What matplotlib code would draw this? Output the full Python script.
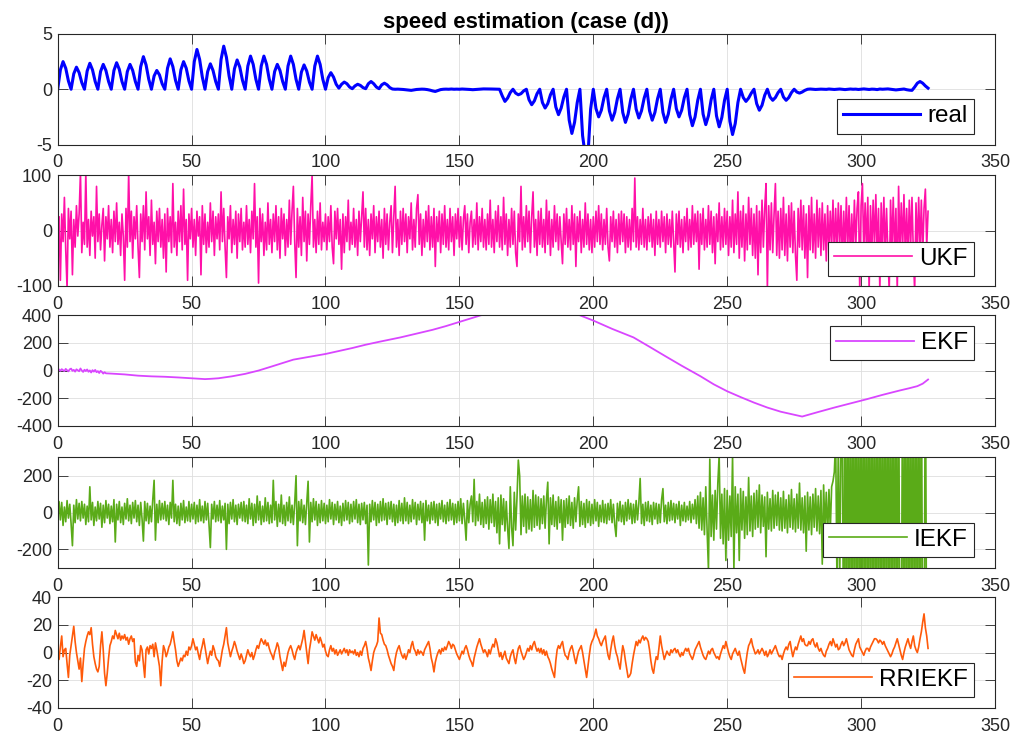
import numpy as np
import matplotlib.pyplot as plt

# real speed, sampled every 1 s
real_speed = [
    0, 1.75, 2.5, 1.9, 0.75, 0, 1.4, 2.0, 1.5, 0.6,
    0, 1.65, 2.35, 1.75, 0.7, 0, 1.6, 2.25, 1.7, 0.7,
    0, 1.7, 2.4, 1.8, 0.7, 0, 1.6, 2.25, 1.7, 0.7,
    0, 2.05, 2.95, 2.2, 0.9, 0, 1.2, 1.7, 1.3, 0.5,
    0, 1.9, 2.75, 2.05, 0.8, 0, 1.75, 2.5, 1.9, 0.75,
    0, 2.5, 3.6, 2.7, 1.1, 0, 1.6, 2.3, 1.7, 0.7,
    0, 2.7, 3.9, 2.9, 1.2, 0, 1.85, 2.65, 2.0, 0.8,
    0, 2.1, 3.0, 2.25, 0.9, 0, 2.1, 3.0, 2.25, 0.9,
    0, 1.6, 2.25, 1.7, 0.7, 0, 2.1, 3.0, 2.25, 0.9,
    0, 1.55, 2.2, 1.65, 0.65, 0, 2.1, 3.0, 2.25, 0.9,
    0, 1.05, 1.5, 1.1, 0.45, 0.1, 0.45, 0.65, 0.5, 0.2,
    0.05, 0.3, 0.45, 0.35, 0.15, 0.05, 0.5, 0.7, 0.5, 0.2,
    0.05, 0.4, 0.55, 0.4, 0.15, 0.02, 0.0, 0.01, 0.0, -0.02,
    -0.05, -0.08, -0.1, -0.06, -0.02, 0.0, 0.01, 0.0, -0.03, -0.08,
    -0.15, -0.2, -0.12, -0.03, 0.0, 0.01, 0.0, 0.02, 0.0, 0.01,
    0.0, 0.02, 0.01, 0.0, -0.02, -0.04, -0.02, 0.0, 0.02, 0.03,
    0.03, 0.02, 0.02, 0.01, 0.0, 0, -0.6, -1.1, -0.8, -0.3,
    0, -0.35, -0.5, -0.4, -0.15, 0, -0.95, -1.4, -1.05, -0.4,
    0, -1.2, -1.7, -1.3, -0.5, 0, -1.6, -2.3, -1.7, -0.7,
    0, -2.8, -4.0, -3.0, -1.2, 0, -4.2, -6.0, -6.0, -1.8,
    0, -1.75, -2.5, -1.9, -0.75, 0, -1.95, -2.8, -2.1, -0.85,
    0, -2.1, -3.0, -2.25, -0.9, 0, -1.8, -2.6, -1.95, -0.8,
    0, -1.95, -2.8, -2.1, -0.85, 0, -2.1, -3.0, -2.25, -0.9,
    0, -1.75, -2.5, -1.9, -0.75, 0, -2.3, -3.3, -2.5, -1.0,
    0, -2.25, -3.2, -2.4, -0.95, 0, -2.4, -3.4, -2.55, -1.0,
    0, -2.9, -4.1, -3.1, -1.2, 0, -0.75, -1.1, -0.8, -0.35,
    0, -1.3, -1.9, -1.45, -0.55, 0, -0.7, -1.0, -0.75, -0.3,
    0, -0.7, -1.0, -0.75, -0.3, 0, -0.25, -0.35, -0.25, -0.1,
    0.0, 0.02, 0.0, -0.02, 0.0, 0.01, 0.0, -0.01, 0.02, 0.0,
    -0.02, 0.0, 0.02, 0.0, -0.03, 0.0, 0.02, 0.0, 0.01, -0.02,
    0.0, 0.03, 0.0, -0.02, 0.01, 0.0, -0.03, 0.02, 0.0, 0.01,
    0.03, 0.0, -0.02, -0.06, -0.03, 0.0, 0.02, -0.04, -0.08, -0.1,
    0.2, 0.55, 0.7, 0.55, 0.3, 0.1,
]

# UKF estimate, sampled every 0.5 s
ukf_speed = [
    0, 25, -90, 30, -20, 60, -35, -105, 40, -15, 35, -80, 20, -30, 45, -10, 30, 105, -40, 15,
    -25, 105, -30, 20, -45, 35, -10, 25, -50, 80, -20, 30, -35, 10, 40, -55, 25, -15, 45, -30,
    20, -40, 35, -20, 50, -25, 15, -45, 30, -10, -90, 40, -30, 105, -20, 35, -50, 25, -15, 45,
    -30, -85, 30, -20, 45, -35, 70, -15, 25, -45, 55, -25, 15, -60, 35, -20, 40, -30, 20, -50,
    30, -75, 40, -20, 25, -40, 85, -30, 15, -45, 35, -20, 45, -35, 75, -25, 20, -90, 30, -15,
    40, -30, 20, -45, 35, -10, 25, -80, 45, -25, 30, -40, 15, -30, 50, -20, 35, -45, 25, -15,
    30, -35, 70, -20, 40, -30, -85, 25, -15, 45, -40, 20, -25, 35, -50, 30, -20, 40, -35, 15,
    -30, 45, -25, 20, -40, 35, -15, 85, -30, 25, -95, 40, -20, 30, -45, 15, -35, 50, -25, 20,
    -40, 30, -20, 45, -35, 25, -50, 40, -15, 30, -45, 20, -30, 55, -25, 35, 80, -20, -85, 40,
    -30, 25, -45, 60, -20, 35, -55, 30, -25, 45, 100, -30, 20, -40, 35, -25, 50, -35, 15, -20,
    30, -35, 25, -20, 45, -30, -60, 35, -15, 40, -25, 20, -70, 30, -40, 25, -20, 55, -35, 15,
    -25, 40, -30, 20, -45, 35, -20, 25, 70, -30, 40, -35, 20, -45, 30, -15, 45, -40, 25, -20,
    35, -30, 20, -50, 40, -25, 30, -35, 15, 45, -40, 25, 80, -30, 20, -45, 35, -25, 40, -20,
    30, -40, 25, -15, 50, -35, 20, -30, 40, 65, -25, 30, -45, 20, -30, 35, -20, 45, -35, 25,
    -30, 40, -65, 25, -20, 35, -40, 30, -25, 45, -30, 20, -35, 40, -20, 25, -45, 30, -15, 40,
    -30, 25, -35, 20, 45, -25, 30, -40, 15, 35, -30, 20, -25, 50, -35, 25, -20, 40, -30, 20,
    -35, 30, -25, 55, -30, 20, -40, 35, -20, 45, -30, 25, -35, 60, -25, 30, -45, 20, -30, 40,
    -25, 35, -40, -65, 30, -20, 80, -35, 25, -30, 45, -20, 35, -40, 25, 70, -30, 20, -45, 35,
    -25, 40, -30, 20, -40, 55, -25, 35, -45, 20, -30, 45, -20, 30, -35, 25, -20, -60, 30, -25,
    40, -30, 20, -35, 45, -25, 30, -65, 25, -20, 35, -40, 20, -30, 50, -25, 30, -35, 20, -40,
    25, -30, 35, -20, 45, -25, 30, -35, 20, -25, 40, -30, -55, 25, -20, 35, -30, 20, -40, 30,
    -25, 35, -20, 30, -40, 25, -30, 20, -35, 40, -20, 95, -30, 25, -35, 20, -25, 40, -30, 20,
    -35, 25, -20, 30, -30, 20, -45, 35, -25, 20, -30, 35, -20, 25, -40, 30, -25, 20, -30, 35,
    -20, -75, 30, -25, 35, -30, 20, -40, 25, -20, 40, -35, 20, -30, 45, -25, 30, -20, 35, -70,
    30, -25, 40, -35, 20, -30, 45, -25, 35, -40, 25, -60, 30, -20, 50, -35, 25, -30, 40, -25,
    35, -45, 25, -30, 55, -40, 30, -25, 70, -50, 35, -30, 45, -55, 30, -35, 60, -25, 40, -45,
    30, -50, 45, -80, 35, -40, 55, -30, 40, 85, -105, 45, -35, 50, -40, 30, 85, -45, 35, -50,
    40, -35, 60, -45, 30, -55, 45, -30, 50, -40, 35, -45, -90, 40, -30, 55, -35, 45, -50, 30,
    -85, 45, -35, 60, -40, 30, -50, 55, -30, 40, -45, 50, -35, 30, -55, 45, -40, 35, -30, 55,
    -45, 40, -35, 50, -30, 45, -55, 35, -40, 60, -35, 45, -50, 30, -40, 55, -30, 40, 70, -110,
    45, 85, -40, 50, -35, 60, -110, 45, -40, 55, -30, 65, -45, 40, -110, 50, -35, 60, -45, 40,
    -40, -110, 55, -35, 60, -45, 40, -110, 80, -40, 50, -35, 65, -45, 40, -50, 55, -30, 60, -40,
    -110, 50, -40, 60, -35, 55, -45, 40, 75, -30, 35,
]

# EKF estimate (slow drift, jitter only at the start)
ekf_time = [
    0, 0.5, 1, 1.5, 2, 2.5, 3, 3.5, 4, 4.5, 5, 5.5, 6, 6.5, 7, 7.5, 8, 8.5,
    9, 9.5, 10, 10.5, 11, 11.5, 12, 12.5, 13, 13.5, 14, 14.5, 15, 15.5, 16,
    16.5, 17, 17.5, 18,
    20, 25, 30, 35, 40, 45, 50, 55, 57, 60, 65, 70, 75, 80, 88, 95, 100,
    110, 115, 120, 128, 135, 140, 145, 150, 158, 165, 172, 178, 185, 190,
    195, 200, 207, 215, 221, 227, 233, 240, 245, 250, 255, 260, 265, 270,
    278, 284, 290, 296, 302, 308, 314.5, 318, 321, 323, 325,
]
ekf_speed = [
    0, 8, -2, 10, 3, -4, 12, 2, -6, 9, 14, -2, 5, -8, 9, 2, -5, 15,
    0, -10, 6, -4, 8, -9, 1, -14, 3, -8, 5, -12, -4, -18, -2,
    -10, -22, -12, -20,
    -22, -28, -37, -42, -45, -50, -56, -62, -60, -56, -42, -24, 0, 30, 79, 103, 120,
    163, 187, 208, 240, 272, 295, 322, 352, 400, 440, 465, 470, 455, 432,
    400, 362, 302, 240, 172, 103, 35, -41, -100, -150, -192, -232, -268, -298,
    -333, -300, -268, -238, -208, -176, -144, -128, -113, -95, -65,
]

# IEKF estimate, sampled every 0.5 s (diverges after ~290 s)
iekf_speed = [
    0, 60, -40, 55, -70, 30, -50, 65, -30, 45, -60, -180, 40, -55, 70, -35, 50, -45, 60, -30,
    45, -65, 35, -50, 140, -40, 55, -70, 30, -45, 60, -35, 50, -80, 40, -55, 65, -30, 45, -60,
    35, -50, 70, -160, 45, -40, 60, -55, 30, -65, 50, -35, 75, -45, 40, -60, 55, -30, 65, -50,
    40, -70, 55, -35, -155, 60, -45, 50, -60, 35, -50, 70, 175, -150, 45, -55, 65, -40, 50, -35,
    60, -45, 40, -65, 55, -30, 175, -50, 45, -60, 35, -70, 50, -40, 65, -55, 30, -45, 60, -50,
    45, -35, 55, -60, 40, -50, 70, -45, 35, -55, 60, -40, 50, -65, -190, 45, -35, 60, -50, 40,
    -45, 65, -55, 35, -40, 50, -200, 45, -60, 55, -35, 70, -50, 40, -65, 45, -30, 55, -45, 60,
    -50, 40, -60, 75, -35, 50, -70, 45, -55, 90, -40, 60, -65, 35, -50, 80, -45, 55, -60, 40,
    -55, 175, -40, 60, -75, 45, -50, 95, -60, 40, -70, 55, -45, 85, -55, 40, -65, 50, 200, -180,
    60, -45, 70, -55, 40, -65, 50, 170, -160, 55, -50, 75, -40, 60, -70, 45, -55, 65, -45, 50,
    -60, 40, -50, 70, -35, 55, -65, 45, -40, 60, -55, 35, -70, 50, -45, 65, -40, 55, -60, 45,
    -50, 60, -35, 70, -55, 45, -65, 50, -40, 55, -60, 40, -285, 45, -50, 65, -40, 55, -70, 45,
    -55, 60, -45, 75, -40, 50, -65, 55, -35, 60, -50, 45, -70, 40, -55, 65, -45, 50, -60, 80,
    -45, 55, -60, 40, -50, 70, -35, 55, -65, 45, -40, 60, -55, 50, -150, 65, -45, 40, -60, 55,
    -40, 60, -55, 45, -70, 50, -35, 65, -50, 40, -60, 55, -45, 70, -40, 50, -65, 45, -55, 60,
    -45, 75, -60, 50, -40, -150, 65, -55, 45, 90, -50, 180, -70, 60, -45, 100, -65, 55, -80, 70,
    -60, 85, -90, 70, -55, 100, -75, 60, -110, 80, -170, 95, -65, 75, -100, 60, -85, -195, 140, -80,
    -180, 110, -95, 80, 285, 200, -120, 90, -75, 100, -110, 85, -90, 70, -100, 120, -80, 95, -70, 85,
    -90, 75, -60, 90, -85, 70, 165, -170, 80, -65, 95, -75, 60, -90, 85, -55, 70, -150, 65, -80,
    75, -60, 90, -70, 55, -85, 80, -50, 65, 140, -75, 60, -65, 50, -80, 70, -55, 60, -70, 45,
    -60, 70, -45, 55, -75, 40, -50, 65, -55, 45, -60, 50, -40, 70, -55, 45, -65, -130, 50, -45,
    60, -50, 40, -65, 55, -45, 70, -35, 50, -60, 45, -55, 65, -40, 50, 185, -60, 45, -70, 55,
    -45, 60, -50, 40, -65, 55, -35, 50, -60, 45, -55, 70, 130, -50, 40, -60, 55, -45, 65, -40,
    50, -55, 45, -35, 60, -70, 40, -45, 55, -50, 35, -40, 60, -55, 45, -35, 70, -60, 90, -85,
    110, -95, 80, -120, 140, -100, -310, 290, -130, 95, -150, 120, -90, 160, 310, -140, 100, -170, 130, -260,
    120, -150, 90, -130, 310, -310, 140, -110, 100, -260, 130, -95, 115, -140, 85, -120, 190, -100, 90, -130,
    105, -90, 120, -80, 150, -110, 95, -75, 85, -240, 110, -90, 75, -100, 120, -85, 95, -70, 110, -95,
    80, -100, 115, -85, 70, -110, 95, -80, 125, -90, 75, -105, 100, -85, 160, -95, 80, -110, 90, -210,
    110, -95, 85, -120, 100, -80, 130, -100, 90, -115, 120, -280, 150, -90, 110, -130, 125, -95, 140, 170,
    220, 400, -400, 400, -400, 400, 420, -900, 900, -900, 900, -900, 900, -900, 900, -900, 900, -900, 900, -900,
    900, -900, 900, -900, 900, -900, 900, -900, 900, -900, 900, -900, 900, -900, 900, -900, 900, -900, 900, -900,
    900, -900, 900, -900, 900, -900, 900, -900, 900, -900, -900, 900, -900, 900, -900, 900, -900, 900, -900, 900,
    -900, 900, -900, 900, -900, 900, -900, -900, 900, -900, -900,
]

# RRIEKF estimate, sampled every 0.5 s
rriekf_speed = [
    0, -5, 4, 12, -3, 2, 3, -8, -18, -2, 5, 12, 19, 8, 0, -6, -12, -4, -21, -8,
    3, 8, 12, 15, 13, 18, 6, -3, -8, -12, -14, -10, 5, 15, 2, -15, -24, -15, -4, 5,
    8, 12, 10, 16, 13, 10, 14, 9, 12, 10, 13, 9, 11, 6, 10, 12, 8, 10, -7, -10,
    -2, -6, 5, 2, -8, -18, 2, 4, -1, 5, 3, 6, -3, 7, 2, -4, -10, -24, -6, 5,
    2, -3, 0, 4, 6, 10, 15, 8, 2, -6, -10, -7, -4, -6, -2, -3, 1, -2, 4, 2,
    5, 10, 6, 2, 4, -1, -5, 1, 5, 10, 4, -2, -8, -3, 1, -2, 5, 2, -3, -5,
    -6, -10, -4, 2, 6, 12, 18, 7, 2, -3, 1, 4, 8, 5, 1, -2, -5, -1, -4, -8,
    -6, -2, 2, -1, -3, 0, -5, -2, 2, 5, 3, 7, 10, 8, 6, 9, 5, 7, 3, 0,
    -2, -5, 0, 3, 7, 4, -3, -8, -13, -7, -10, -5, 0, 3, 5, 2, -2, -5, 0, 3,
    5, 2, 6, 10, 16, 8, 0, -8, 2, 8, 15, 12, 9, 13, 10, 7, 11, 8, 4, 6,
    1, -2, -3, 2, 5, 1, 3, -1, 2, -2, 0, 2, -1, 1, 3, 0, 2, -2, 2, 0,
    1, -1, 2, -2, 0, -3, 1, -2, 3, 5, 8, 3, -4, -8, -13, -6, 0, 3, 5, 8,
    25, 14, 13, 9, 6, 5, 2, -2, -5, -8, -10, -13, -5, 0, 3, 5, 1, -2, -4, -1,
    -5, -2, 2, 0, 5, 8, 3, 1, -2, 2, -1, 1, 0, -2, 2, 4, 6, 8, 3, -4,
    -8, -14, -7, -3, 0, 2, -1, 3, 1, 4, 2, 5, 8, 6, 3, 6, 5, 2, -1, -3,
    -5, -2, 1, -1, 3, 5, 2, -2, -5, -7, -10, -4, 0, 4, 7, 10, 6, 3, 0, 2,
    0, -3, 2, -1, 3, 6, 4, 10, 7, 2, -3, 0, -5, -2, 1, -4, -6, -8, -3, 0,
    2, -4, -8, -2, 3, 5, 1, -2, -5, -3, 0, 3, 1, 5, 2, 6, 8, 4, 1, 3,
    0, 3, -1, 2, -2, 1, -3, -5, -8, -12, -15, -18, -6, 2, 5, 3, 6, 8, 2, -2,
    -3, -5, 0, 3, 5, 1, -4, -8, -3, 1, 3, 5, 0, -6, -12, -18, -10, -2, 5, 8,
    10, 13, 17, 12, 10, 7, 5, 8, 10, 12, 4, -2, -5, 2, 8, 12, 5, 0, -3, -8,
    -12, -3, 5, 1, -6, -12, -18, -17, -15, -8, -2, 3, 8, 5, 9, 7, 10, 12, 9, 11,
    10, 8, 2, -6, -12, -15, -8, -3, -5, 3, 12, 5, 0, -5, -2, 1, -1, -2, 2, 0,
    2, 3, 0, 2, -1, -3, 0, -2, 1, 3, 1, 3, -1, -3, -5, -2, 2, 4, 6, 8,
    4, 1, -2, -4, -5, -2, 1, -1, 2, 3, 0, -2, -4, -3, -5, -1, 2, 5, 3, 8,
    4, 0, -3, -5, -1, 1, 3, 0, -2, 1, -4, -8, -12, -15, -7, 0, 5, 7, 10, 5,
    2, -1, 0, 2, -1, 1, 3, 1, -2, 1, -3, -1, 2, -1, 1, 3, 5, 2, -1, -3,
    -2, -5, -1, 2, 4, 2, 6, 8, 2, -3, 1, 4, 2, 6, 9, 12, 8, 10, 6, 5,
    5, 8, 6, 9, 10, 6, 4, 7, 3, 1, 3, 0, -2, -3, 1, 3, 6, 8, 5, 10,
    7, 4, 6, 2, 3, 6, 8, 5, 7, 10, 6, 2, 0, -2, -3, 2, 6, 8, 10, 4,
    2, 0, -2, 1, 3, 3, 1, 4, 6, 8, 10, 10, 9, 7, 9, 8, 6, 8, 5, 3,
    1, -1, -3, -1, 2, 4, 7, 10, 6, 2, -2, -5, 0, 4, 7, 10, 6, 3, 8, 12,
    5, 2, 0, 4, 10, 15, 22, 28, 18, 12, 3,
]

panels = [
    (real_speed, 1.0, 'real', '#0000FF', 2.2, 5, [-5, 0, 5]),
    (ukf_speed, 0.5, 'UKF', '#FF10A8', 1.2, 100, [-100, 0, 100]),
    (ekf_speed, None, 'EKF', '#D946FF', 1.3, 400, [-400, -200, 0, 200, 400]),
    (iekf_speed, 0.5, 'IEKF', '#5AAB18', 1.2, 300, [-200, 0, 200]),
    (rriekf_speed, 0.5, 'RRIEKF', '#FF5A0A', 1.2, 40, [-40, -20, 0, 20, 40]),
]

# axes placement in pixels (top edge), figure is 1015 x 742
W, H = 1015.0, 742.0
left_px, right_px, height_px = 57.7, 995.0, 110.5
tops_px = [34.0, 175.3, 315.3, 457.3, 597.3]
legend_anchor = [(0.9776, 0.099, 'lower right'), (0.9776, 0.09, 'lower right'),
                 (0.9776, 0.903, 'upper right'), (0.9776, 0.097, 'lower right'),
                 (0.9776, 0.097, 'lower right')]

plt.rcParams['font.family'] = ['Liberation Sans', 'DejaVu Sans']
plt.rcParams['axes.unicode_minus'] = False
fig = plt.figure(figsize=(W / 100, H / 100), dpi=100)
dark = '#262626'

for k, (vals, step, label, color, lw, ymax, yticks) in enumerate(panels):
    top = tops_px[k]
    ax = fig.add_axes([left_px / W, 1 - (top + height_px) / H,
                       (right_px - left_px) / W, height_px / H])
    if step is None:
        t = np.array(ekf_time)
    else:
        t = step * np.arange(len(vals))
    ax.plot(t, vals, color=color, linewidth=lw, label=label)
    ax.set_xlim(0, 350)
    ax.set_ylim(-ymax, ymax)
    ax.set_xticks(np.arange(0, 351, 50))
    ax.set_yticks(yticks)
    ax.grid(True, color='#DEDEDE', linewidth=0.6)
    ax.set_axisbelow(True)
    ax.tick_params(direction='in', top=True, right=True, length=7, width=0.6,
                   colors=dark, labelsize=13)
    ax.tick_params(axis='x', pad=7)
    ax.tick_params(axis='y', pad=4)
    for sp in ax.spines.values():
        sp.set_color(dark)
        sp.set_linewidth(0.8)
    ax_x, ax_y, loc = legend_anchor[k]
    leg = ax.legend(loc=loc, bbox_to_anchor=(ax_x, ax_y), borderaxespad=0,
                    fontsize=17.5, fancybox=False, framealpha=1, edgecolor=dark,
                    handlelength=3.2, handletextpad=0.3, borderpad=0.25)
    leg.get_frame().set_linewidth(0.8)
    if k == 0:
        ax.set_title('speed estimation (case (d))', fontsize=16,
                     fontweight='bold', pad=4)

fig.savefig('out.png', dpi=100)
